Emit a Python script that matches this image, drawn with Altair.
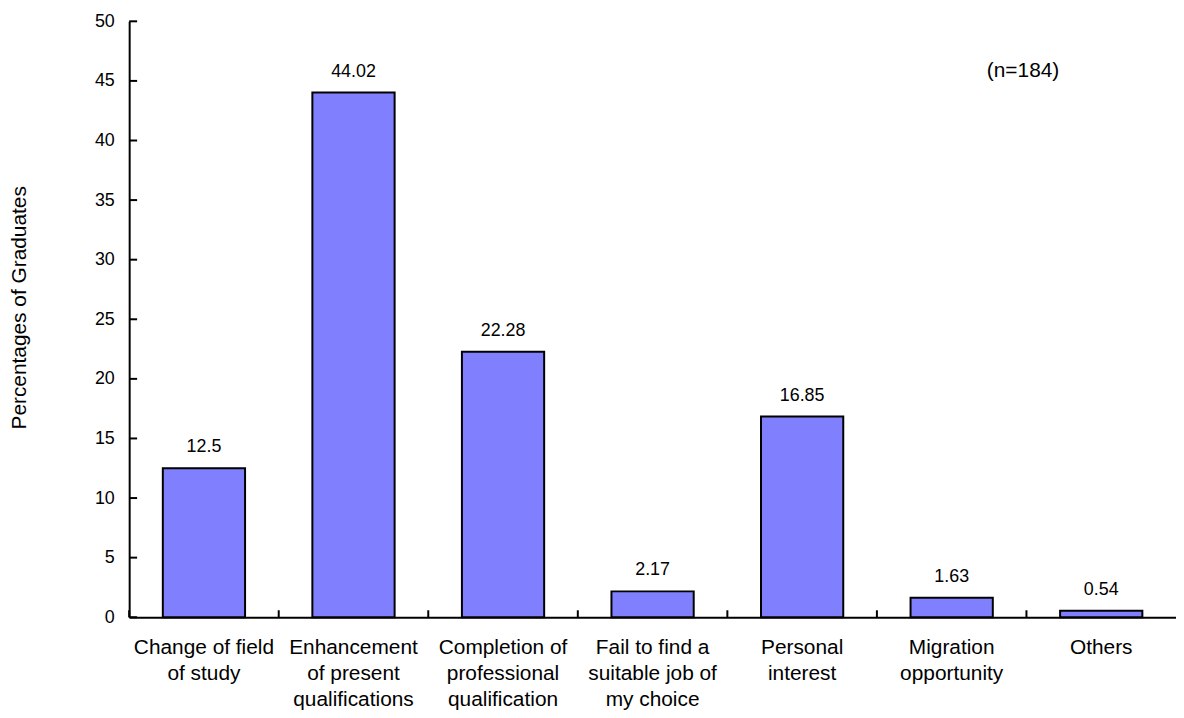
import altair as alt
import pandas as pd

categories = [
    "Change of field|of study",
    "Enhancement|of present|qualifications",
    "Completion of|professional|qualification",
    "Fail to find a|suitable job of|my choice",
    "Personal|interest",
    "Migration|opportunity",
    "Others",
]
values = [12.5, 44.02, 22.28, 2.17, 16.85, 1.63, 0.54]
value_labels = ["12.5", "44.02", "22.28", "2.17", "16.85", "1.63", "0.54"]
y_ticks = [0, 5, 10, 15, 20, 25, 30, 35, 40, 45, 50]
note_text = ["(n=184)"]

FONT = "Liberation Sans"
W, H = 1054, 600

df = pd.DataFrame({"cat": categories, "val": values, "lab": value_labels})
ticks_df = pd.DataFrame({"t": y_ticks})
note_df = pd.DataFrame({"txt": note_text, "y": [45.8]})

xscale = alt.Scale(domain=categories, paddingInner=0.45, paddingOuter=0.225)
xscale_step = alt.Scale(domain=categories, paddingInner=0, paddingOuter=0)
yscale = alt.Scale(domain=[0, 50], nice=False)

y_axis = alt.Axis(
    orient="left",
    title="Percentages of Graduates",
    titleFont=FONT,
    titleFontSize=21,
    titleFontWeight="normal",
    titleColor="black",
    titleAngle=-90,
    titleX=-110,
    titleY=288,
    titleAlign="center",
    titleBaseline="middle",
    values=y_ticks,
    labelFont=FONT,
    labelFontSize=18,
    labelColor="black",
    labelPadding=15,
    ticks=False,
    domainColor="black",
    domainWidth=2,
    grid=False,
)

base = alt.Chart(df)

bars = base.mark_bar(color="#8080FF", stroke="black", strokeWidth=2).encode(
    x=alt.X(
        "cat:N",
        scale=xscale,
        sort=categories,
        axis=alt.Axis(
            title=None,
            labelExpr="split(datum.label, '|')",
            labelFont=FONT,
            labelFontSize=21,
            labelColor="black",
            labelLineHeight=26,
            labelPadding=20,
            labelAngle=0,
            labelBaseline="top",
            ticks=False,
            domainColor="black",
            domainWidth=2,
            grid=False,
        ),
    ),
    y=alt.Y("val:Q", scale=yscale, axis=y_axis),
)

labels = base.mark_text(font=FONT, fontSize=18, color="black", baseline="alphabetic", dy=-16).encode(
    x=alt.X("cat:N", scale=xscale, sort=categories, axis=None),
    y=alt.Y("val:Q", scale=yscale, axis=y_axis),
    text="lab:N",
)

xticks = base.mark_rule(color="black", strokeWidth=2).encode(
    x=alt.X("cat:N", scale=xscale_step, sort=categories, bandPosition=0, axis=None),
    y=alt.value(H),
    y2=alt.value(H - 7),
)

yticks = alt.Chart(ticks_df).mark_rule(color="black", strokeWidth=2, opacity=1).encode(
    y=alt.Y("t:Q", scale=yscale, axis=y_axis),
    x=alt.value(0),
    x2=alt.value(8),
)

note = alt.Chart(note_df).mark_text(font=FONT, fontSize=21, color="black", align="center", baseline="middle").encode(
    x=alt.value(900),
    y=alt.Y("y:Q", scale=yscale, axis=y_axis),
    text="txt:N",
)

chart = (
    alt.layer(bars, labels, note, xticks, yticks)
    .resolve_scale(x="independent")
    .properties(
        width=W,
        height=H,
        view=alt.ViewBackground(stroke="transparent", strokeWidth=0),
        autosize=alt.AutoSizeParams(type="none"),
        padding={"left": 122, "top": 11, "right": 0, "bottom": 91},
    )
    .configure_view(strokeWidth=0, stroke="transparent")
    .configure(background="white")
)

chart.save("out.html", embed_options={"renderer": "svg", "actions": False})
